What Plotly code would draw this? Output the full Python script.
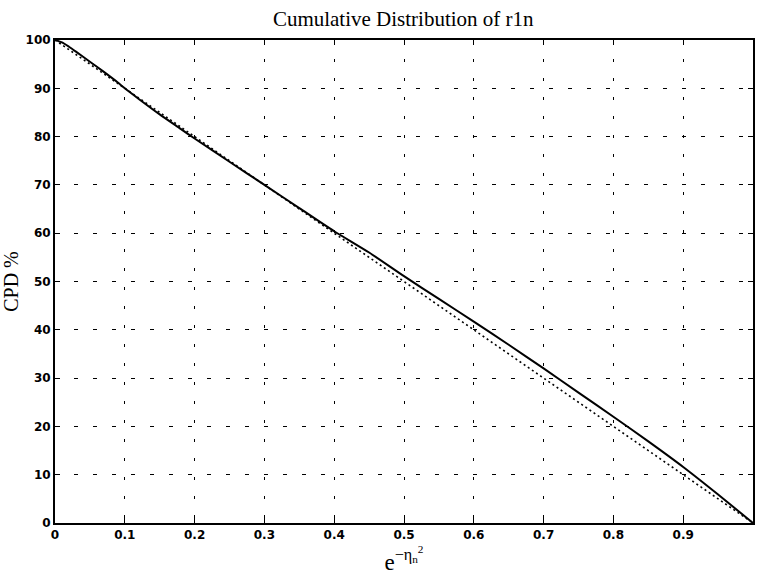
import plotly.graph_objects as go

# Empirical cumulative distribution (solid) and reference line (dotted)
x_emp = [0.0, 0.01, 0.02, 0.03, 0.05, 0.07, 0.09, 0.10, 0.12, 0.15, 0.18, 0.20,
         0.25, 0.30, 0.35, 0.40, 0.45, 0.50, 0.55, 0.60, 0.65, 0.70, 0.75,
         0.80, 0.85, 0.90, 0.95, 1.0]
cpd_emp = [100.0, 99.5, 98.6, 97.6, 95.5, 93.4, 91.2, 90.0, 87.8, 84.6, 81.6, 79.6,
           74.8, 70.0, 65.2, 60.4, 56.0, 51.1, 46.4, 41.7, 36.9, 32.0, 27.0,
           22.0, 16.9, 11.6, 5.9, 0.0]
x_ref = [0.0, 1.0]
cpd_ref = [100.0, 0.0]

x_ticks = [0, 0.1, 0.2, 0.3, 0.4, 0.5, 0.6, 0.7, 0.8, 0.9]
x_ticklabels = ["0", "0.1", "0.2", "0.3", "0.4", "0.5", "0.6", "0.7", "0.8", "0.9"]
y_ticks = [0, 10, 20, 30, 40, 50, 60, 70, 80, 90, 100]
y_ticklabels = [str(v) for v in y_ticks]

fig = go.Figure()
fig.add_trace(go.Scatter(x=x_ref, y=cpd_ref, mode="lines",
                         line=dict(color="black", width=1.6, dash="2px,3px"),
                         showlegend=False))
fig.add_trace(go.Scatter(x=x_emp, y=cpd_emp, mode="lines",
                         line=dict(color="black", width=2, shape="spline", smoothing=0.6),
                         showlegend=False))

tick_font = dict(family="DejaVu Sans", size=12, color="black", weight="bold")
axis_common = dict(
    showline=True, linecolor="black", linewidth=2, mirror="ticks",
    ticks="inside", ticklen=5, tickcolor="black",
    showgrid=True, gridcolor="black", gridwidth=1,
    zeroline=False, tickfont=tick_font,
)

fig.update_layout(
    width=758, height=582,
    margin=dict(l=55, r=3, t=40, b=59),
    paper_bgcolor="white", plot_bgcolor="white",
    title=dict(text="Cumulative Distribution of r1n", x=0.532, xanchor="center",
               y=0.968, yanchor="middle",
               font=dict(family="Liberation Serif", size=21, color="black")),
    xaxis=dict(range=[0, 1], tickvals=x_ticks, ticktext=x_ticklabels,
               griddash="3px,16px",
               title=dict(text="e<sup>−η<sub>n</sub><sup>2</sup></sup>",
                          font=dict(family="Liberation Serif", size=23, color="black"),
                          standoff=12),
               **axis_common),
    yaxis=dict(range=[0, 100], tickvals=y_ticks, ticktext=y_ticklabels,
               griddash="4px,15px",
               title=dict(text="CPD %",
                          font=dict(family="Liberation Serif", size=20, color="black"),
                          standoff=6),
               **axis_common),
)

fig.write_html("out.html")
